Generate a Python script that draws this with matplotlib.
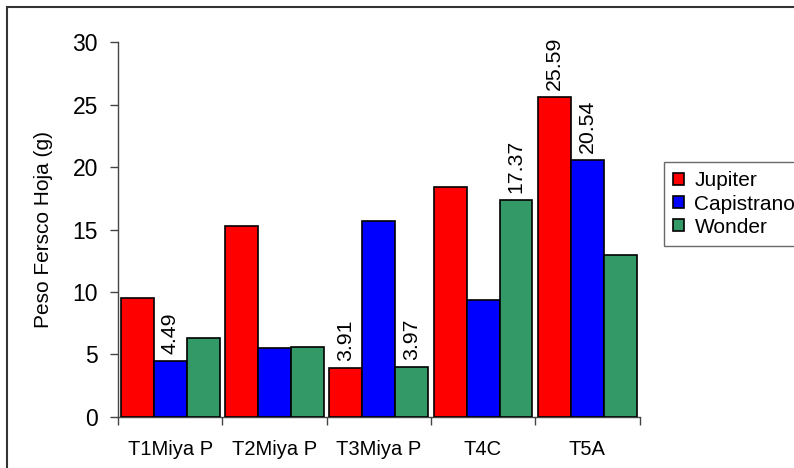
import matplotlib
matplotlib.use("Agg")
import matplotlib.pyplot as plt
from matplotlib.patches import Rectangle
import numpy as np

plt.rcParams['font.family'] = ['Liberation Sans', 'DejaVu Sans']

categories = ["T1Miya P", "T2Miya P", "T3Miya P", "T4C", "T5A"]
series_names = ["Jupiter", "Capistrano", "Wonder"]
jupiter = [9.54, 15.32, 3.91, 18.42, 25.59]
capistrano = [4.49, 5.48, 15.67, 9.36, 20.54]
wonder = [6.29, 5.61, 3.97, 17.37, 12.97]
# which bars carry a value label
jupiter_lbl = [False, False, True, False, True]
capistrano_lbl = [True, False, False, False, True]
wonder_lbl = [False, False, True, True, False]
colors = ["#FF0000", "#0000FF", "#339966"]
yticks = [0, 5, 10, 15, 20, 25, 30]

W, H = 794, 468
fig = plt.figure(figsize=(W / 100, H / 100), dpi=100)
ax = fig.add_axes([118 / W, 51.3 / H, (639.5 - 118) / W, (425.7 - 51.3) / H])

x = np.arange(len(categories))
bw = 0.316
data = [jupiter, capistrano, wonder]
lbls = [jupiter_lbl, capistrano_lbl, wonder_lbl]
for i, (vals, col, name, lb) in enumerate(zip(data, colors, series_names, lbls)):
    pos = x + (i - 1) * bw
    ax.bar(pos, vals, width=bw, color=col, edgecolor='black', linewidth=1.2,
           label=name, zorder=3)
    for p, v, flag in zip(pos, vals, lb):
        if flag:
            ax.annotate(f"{v:.2f}", (p, v), xytext=(0, 5), textcoords='offset points',
                        rotation=90, ha='center', va='bottom', fontsize=15.3)

ax.set_xlim(-0.5, len(categories) - 0.5)
ax.set_ylim(0, 30)
ax.set_yticks(yticks)
ax.set_yticklabels([str(t) for t in yticks], fontsize=16.5)
ax.tick_params(axis='y', direction='out', length=6, width=1, color='#444444', pad=8.5)

ax.set_xticks(np.arange(len(categories) + 1) - 0.5)
ax.set_xticklabels([])
ax.tick_params(axis='x', which='major', direction='out', length=6, width=1, color='#444444')
ax.set_xticks(x, minor=True)
ax.set_xticklabels(categories, minor=True, fontsize=14.5)
ax.tick_params(axis='x', which='minor', length=0, pad=17)

for s in ['top', 'right']:
    ax.spines[s].set_visible(False)
for s in ['left', 'bottom']:
    ax.spines[s].set_color('#444444')
    ax.spines[s].set_linewidth(1)

ax.set_ylabel("Peso Fersco Hoja (g)", fontsize=15, labelpad=14)

leg = ax.legend(loc='upper left', bbox_to_anchor=(664 / W, 1 - 162 / H),
                bbox_transform=fig.transFigure, fontsize=15, frameon=True,
                fancybox=False, edgecolor='#444444', handlelength=0.53,
                handleheight=0.53, handletextpad=0.48, labelspacing=0.2,
                borderpad=0.45, borderaxespad=0)
leg.get_frame().set_linewidth(1)

fig.patches.append(Rectangle((7 / W, -0.05), 1.2, 1 - 7 / H + 0.05, transform=fig.transFigure,
                             fill=False, edgecolor='#333333', linewidth=1.5))

fig.savefig("out.png", dpi=100)
